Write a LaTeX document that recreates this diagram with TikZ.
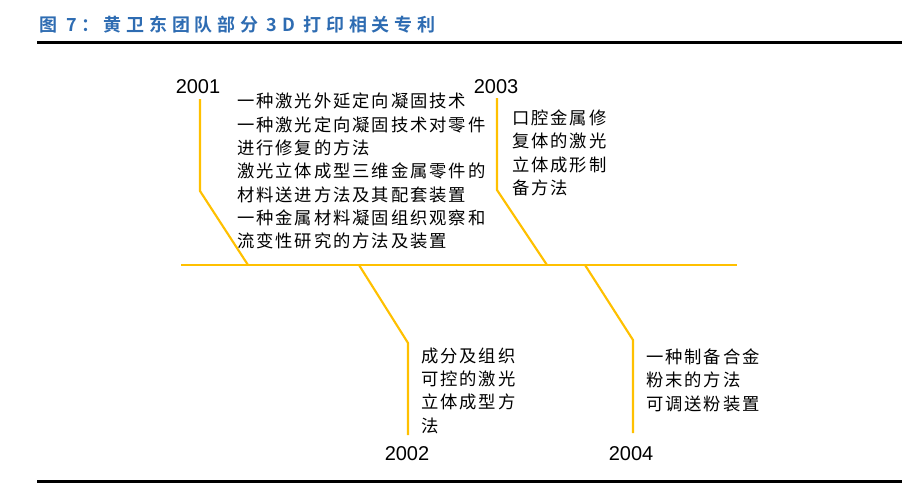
\documentclass[tikz,border=0pt]{standalone}
\usepackage{fontspec}
\setmainfont{Liberation Sans}
\newfontfamily\cjk[LetterSpace=11]{Noto Sans CJK SC}
\newfontfamily\cjktitle[LetterSpace=26]{Noto Sans CJK SC Bold}
\definecolor{amberline}{RGB}{255,192,0}
\definecolor{titleblue}{RGB}{46,108,178}

\begin{document}
\begin{tikzpicture}[x=0.75pt,y=-0.75pt,
    branch/.style={line width=1.6pt, amberline},
    rule/.style={line width=2.3pt, black},
    year/.style={font=\fontsize{15}{18}\selectfont, inner sep=0pt},
    patent/.style={anchor=north west, inner sep=0pt, align=left, font=\cjk\fontsize{13}{17.5}\selectfont}]
	\useasboundingbox (0,0) rectangle (924,489);
	\def\axisy{265}
	\def\ruleleft{37}
	\def\ruleright{902}

	\node[anchor=west, inner sep=0pt, text=titleblue, font=\cjktitle\fontsize{13.5}{16}\selectfont] (title) at (39,25) {图 7：黄卫东团队部分 3D 打印相关专利};

	\coordinate (topL) at (\ruleleft,42.3);
	\coordinate (topR) at (\ruleright,42.3);
	\coordinate (botL) at (\ruleleft,481.3);
	\coordinate (botR) at (\ruleright,481.3);
	\draw[rule] (topL) -- (topR);
	\draw[rule] (botL) -- (botR);

	\coordinate (axL) at (181,\axisy);
	\coordinate (axR) at (737,\axisy);
	\draw[branch] (axL) -- (axR);

	\coordinate (a) at (200,99);
	\coordinate (ak) at (200,191);
	\coordinate (a0) at (248,\axisy);
	\draw[branch] (a) -- (ak) -- (a0);
	\node[year] (y2001) at (198,87) {2001};
	\node[patent] (t2001) at (237,93) {一种激光外延定向凝固技术\\一种激光定向凝固技术对零件\\进行修复的方法\\激光立体成型三维金属零件的\\材料送进方法及其配套装置\\一种金属材料凝固组织观察和\\流变性研究的方法及装置};

	\coordinate (b0) at (359,\axisy);
	\coordinate (bk) at (408,343);
	\coordinate (b) at (408,435);
	\draw[branch] (b0) -- (bk) -- (b);
	\node[year] (y2002) at (407,454) {2002};
	\node[patent] (t2002) at (421,347.4) {成分及组织\\可控的激光\\立体成型方\\法};

	\coordinate (c) at (497,98);
	\coordinate (ck) at (497,190);
	\coordinate (c0) at (547,\axisy);
	\draw[branch] (c) -- (ck) -- (c0);
	\node[year] (y2003) at (496,87) {2003};
	\node[patent] (t2003) at (512,109.4) {口腔金属修\\复体的激光\\立体成形制\\备方法};

	\coordinate (d0) at (585,\axisy);
	\coordinate (dk) at (633,340);
	\coordinate (d) at (633,433);
	\draw[branch] (d0) -- (dk) -- (d);
	\node[year] (y2004) at (631,454) {2004};
	\node[patent] (t2004) at (646,348.4) {一种制备合金\\粉末的方法\\可调送粉装置};
\end{tikzpicture}
\end{document}
